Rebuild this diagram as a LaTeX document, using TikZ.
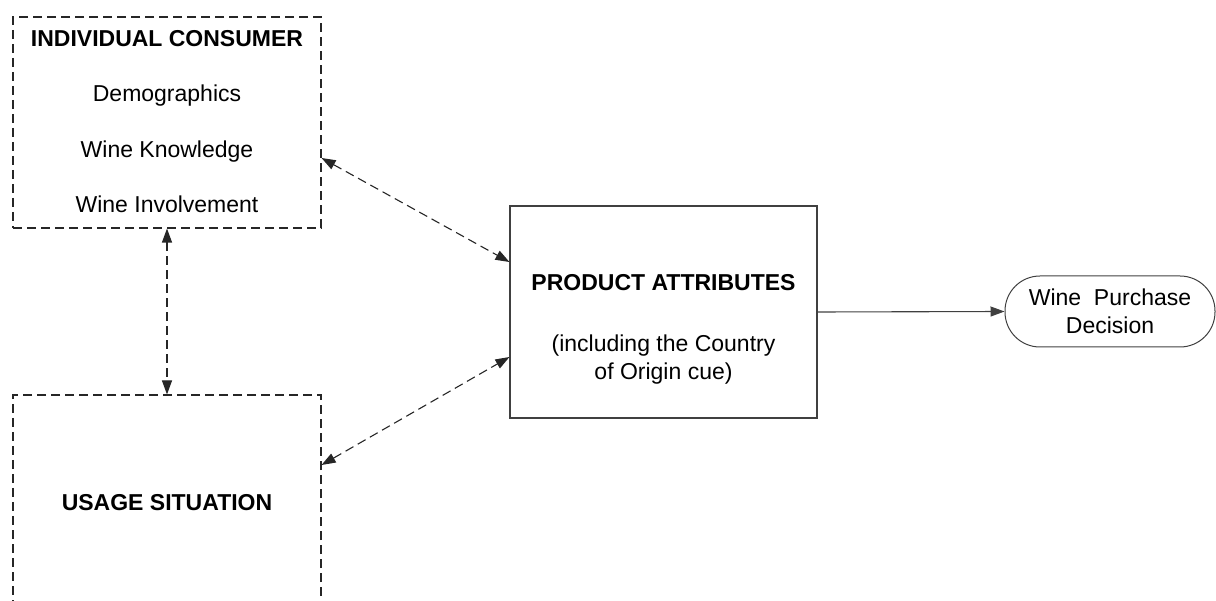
\documentclass[tikz,border=0pt]{standalone}
\usepackage{fontspec}
\setmainfont{Liberation Sans}
\usetikzlibrary{positioning}
\usetikzlibrary{arrows.meta}

\begin{document}
\begin{tikzpicture}[x=1pt,y=-1pt,
    every node/.style={font=\fontsize{23}{28}\selectfont, inner sep=0pt},
    dashbox/.style={draw=black!85, line width=1.1pt, dash pattern=on 9pt off 5pt, rectangle, minimum width=308pt},
    mainbox/.style={draw=black!75, line width=1.1pt, rectangle, minimum width=307pt, minimum height=212pt},
    endbox/.style={draw=black!75, line width=1pt, rectangle, rounded corners=35pt, minimum width=210pt, minimum height=71pt, align=center},
    label/.style={anchor=base},
    link/.style={line width=1.1pt, draw=black!85, dash pattern=on 9pt off 5pt, {Triangle[length=14pt,width=10pt]}-{Triangle[length=14pt,width=10pt]}},
    flow/.style={line width=1.1pt, draw=black!75, -{Triangle[length=14pt,width=10pt]}}]
\useasboundingbox (0,0) rectangle (1216,601);
\node[dashbox, minimum height=211pt] (consumer) at (167,122.5) {};
\node[label] (title) at (167,47) {\textbf{INDIVIDUAL CONSUMER}};
\node[label] (demo) at (167,102) {Demographics};
\node[label] (know) at (167,158) {Wine Knowledge};
\node[label] (involve) at (167,213) {Wine Involvement};
\node[dashbox, minimum height=215pt] (usage) at (167,502.5) {\textbf{USAGE SITUATION}};
\node[mainbox] (product) at (663.5,312) {};
\node[label] (attr) at (663.5,291) {\textbf{PRODUCT ATTRIBUTES}};
\node[label] (incl) at (663.5,352) {(including the Country};
\node[label] (origin) at (663.5,380) {of Origin cue)};
\node[endbox] (decision) at (1110,311.5) {Wine\ \ Purchase\\Decision};

\draw[link] ([yshift=-35.5pt]consumer.east) -- ([yshift=50pt]product.west);
\draw[link] ([yshift=37.5pt]usage.east) -- ([yshift=-45pt]product.west);
\draw[link] (consumer.south) -- (usage.north);
\draw[flow] (product.east) -- (decision.west);
\end{tikzpicture}
\end{document}
